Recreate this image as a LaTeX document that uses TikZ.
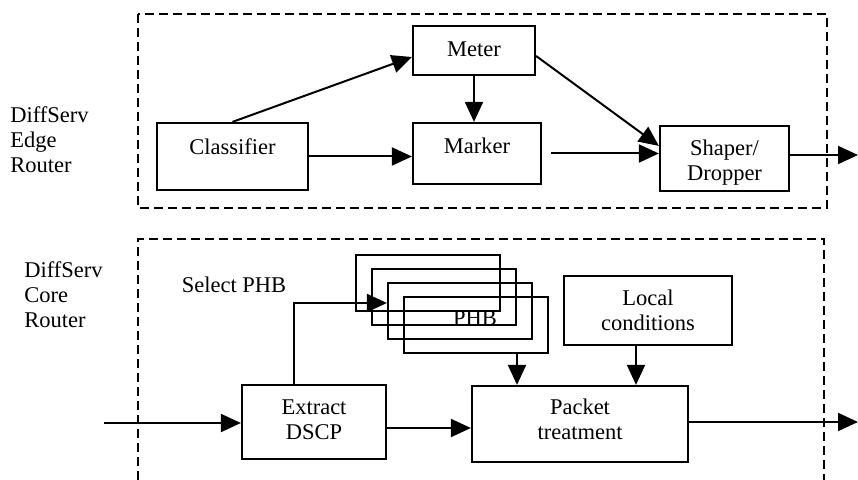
\documentclass[tikz,border=0pt]{standalone}
\usepackage{fontspec}
\setmainfont{Liberation Serif}
\usetikzlibrary{arrows.meta}
\usetikzlibrary{positioning}

\begin{document}
\begin{tikzpicture}[x=0.5pt,y=-0.5pt]
% les styles
\tikzstyle boite=[draw,line width=1.1pt,inner sep=0pt]
\tikzstyle texte=[font=\fontsize{11.25}{12.5}\selectfont,align=center,inner sep=0pt]
\tikzstyle fleche=[line width=1pt,-{Triangle[length=10pt,width=9pt]}]
\tikzstyle cadre=[line width=0.9pt,dash pattern=on 4.5pt off 2.5pt]

\useasboundingbox (0,0) rectangle (858,480);

% les deux cadres
\draw[cadre] (138,14) rectangle (827,208);
\draw[cadre] (138,480) -- (138,239) -- (824,239) -- (824,480);

% les titres
\node[texte,align=left,anchor=west] (titreedge) at (10,139.5) {DiffServ\\Edge\\Router};
\node[texte,align=left,anchor=west] (titrecore) at (24,294.5) {DiffServ\\Core\\Router};

% routeur de bord
\node[boite,minimum width=61pt,minimum height=24.5pt] (meter) at (474,50.5) {};
\node[texte] (meter-t) at (474,49) {Meter};
\node[boite,minimum width=75.5pt,minimum height=33.5pt] (classif) at (232.5,156.5) {};
\node[texte] (classif-t) at (232.5,147) {Classifier};
\node[boite,minimum width=64pt,minimum height=30.5pt] (marker) at (477,153.5) {};
\node[texte] (marker-t) at (477,146) {Marker};
\node[boite,minimum width=64.5pt,minimum height=32.5pt] (shaper) at (724.5,158.5) {};
\node[texte] (shaper-t) at (724.5,162.5) {Shaper/\\Dropper};
\coordinate (sortiehaut) at (858,155);

\draw[fleche] (classif.north) -- ([yshift=-3.25pt]meter.west);
\draw[fleche] (meter.south) -- (meter.south |- marker.north);
\draw[fleche] (classif.east) -- (classif.east -| marker.west);
\draw[fleche] ([xshift=4.5pt]marker.east) -- (marker.east -| shaper.west);
\draw[fleche] ([yshift=-2.75pt]meter.east) -- ([yshift=-10.5pt]shaper.north west);
\draw[fleche] (shaper.east |- sortiehaut) -- (sortiehaut);

% routeur de coeur
\foreach \i in {1,...,4}
  \node[boite,minimum width=72pt,minimum height=28pt] (phb\i) at ({428+16*(\i-1)},{283+14*(\i-1)}) {};
\node[texte] (phb-t) at (475,318) {PHB};
\node[texte] (select) at (234,285) {Select PHB};
\node[boite,minimum width=84pt,minimum height=34.5pt] (local) at (648,310.5) {};
\node[texte] (local-t) at (648,310) {Local\\conditions};
\node[boite,minimum width=72pt,minimum height=37pt] (extract) at (314,422) {};
\node[texte] (extract-t) at (314,419.5) {Extract\\DSCP};
\node[boite,minimum width=108pt,minimum height=38pt] (packet) at (580,424) {};
\node[texte] (packet-t) at (580,419.5) {Packet\\treatment};
\coordinate (entree) at (104,423);
\coordinate (sortiebas) at (858,422);

\draw[fleche] (entree) -- (entree -| extract.west);
\draw[fleche] ([xshift=-10pt]extract.north) |- ([yshift=4pt]phb3.west);
\draw[fleche] ([yshift=-3pt]extract.east) -- ([yshift=-3pt]extract.east -| packet.west);
\draw[fleche] ([xshift=20.5pt]phb4.south) -- ([xshift=20.5pt]phb4.south |- packet.north);
\draw[fleche] ([xshift=-6pt]local.south) -- ([xshift=-6pt]local.south |- packet.north);
\draw[fleche] (packet.east |- sortiebas) -- (sortiebas);
\end{tikzpicture}
\end{document}
